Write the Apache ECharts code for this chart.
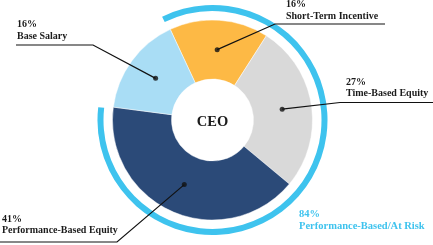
<!DOCTYPE html>
<html><head><meta charset="utf-8">
<script src="https://cdn.jsdelivr.net/npm/echarts@6/dist/echarts.min.js"></script>
<style>html,body{margin:0;padding:0;background:#fff}#c{width:433px;height:245px}</style>
</head><body><div id="c"></div>
<script>
// ---- data ----
const categories = ['Short-Term Incentive', 'Time-Based Equity', 'Performance-Based Equity', 'Base Salary'];
const shares = [16, 27, 41, 16];
const atRiskLabel = 'Performance-Based/At Risk';
const atRiskShare = 84;
const centerLabel = 'CEO';

// ---- styles / layout ----
const sliceColors = ['#FDB945', '#D9D9D9', '#2B4A78', '#A9DDF5'];
const ringColor = '#3EC3EE';
const FONT = '"Liberation Serif", "Times New Roman", serif';
const CX = 212.5, CY = 120, R0 = 41, R1 = 100;
const labelSpots = [
  {tx: 286, ty: -1,    ex: 275, ey: 24,    endX: 385},
  {tx: 346, ty: 76.5,  ex: 340, ey: 102.5, endX: 433},
  {tx: 2,   ty: 213.5, ex: 117, ey: 242,   endX: 0},
  {tx: 17,  ty: 19,    ex: 93,  ey: 45,    endX: 16}
];

const chart = echarts.init(document.getElementById('c'), null, {renderer: 'canvas'});

let acc = 0;
const dotData = shares.map(v => { const m = acc + v / 2; acc += v; return [(R0 + R1) / 2, m]; });

const txt = {fontFamily: FONT, fontWeight: 'bold', fontSize: 10, lineHeight: 11.5, color: '#1b1b1b'};

chart.setOption({
  animation: false,
  polar: {center: [CX, CY], radius: R1},
  angleAxis: {type: 'value', min: 0, max: 100, startAngle: 115, clockwise: true, show: false},
  radiusAxis: {type: 'value', min: 0, max: R1, show: false},
  series: [
    {
      type: 'pie',
      center: [CX, CY],
      radius: [R0, R1],
      startAngle: 115,
      clockwise: true,
      avoidLabelOverlap: false,
      emphasis: {disabled: true},
      itemStyle: {borderColor: 'rgba(255,255,255,0.6)', borderWidth: 0.8},
      data: categories.map((c, i) => ({name: c, value: shares[i], itemStyle: {color: sliceColors[i]}})),
      label: {
        show: true,
        formatter: p => '{p|' + p.value + '%}\n{n|' + p.name + '}',
        rich: {p: txt, n: txt}
      },
      labelLine: {show: false},
      labelLayout: function (p) {
        const s = labelSpots[p.dataIndex];
        return {x: s.tx, y: s.ty, align: 'left', verticalAlign: 'top'};
      },
      z: 2
    },
    {
      type: 'pie',
      center: [CX, CY],
      radius: [109, 115],
      startAngle: 116,
      clockwise: true,
      silent: true,
      label: {show: false},
      labelLine: {show: false},
      emphasis: {disabled: true},
      data: [
        {name: atRiskLabel, value: atRiskShare, itemStyle: {color: ringColor}},
        {name: 'rest', value: 100 - atRiskShare, itemStyle: {color: 'rgba(0,0,0,0)'}}
      ],
      z: 1
    },
    {
      type: 'scatter',
      coordinateSystem: 'polar',
      symbol: 'circle',
      symbolSize: 5,
      silent: true,
      itemStyle: {color: '#111'},
      data: dotData,
      z: 6
    }
  ]
});

const guideLines = labelSpots.map((s, i) => {
  const d = chart.convertToPixel({polarIndex: 0}, dotData[i]);
  return {type: 'polyline', id: 'guide' + i, z: 5, silent: true,
          shape: {points: [d, [s.ex, s.ey], [s.endX, s.ey]]},
          style: {stroke: '#111', lineWidth: 1.2, fill: null}};
});

chart.setOption({
  graphic: [
    ...guideLines,
    {type: 'text', id: 'center', x: CX, y: CY + 2, z: 10,
     style: {text: centerLabel, fontFamily: FONT, fontWeight: 'bold', fontSize: 14.5, fill: '#1b1b1b', align: 'center', verticalAlign: 'middle'}},
    {type: 'text', id: 'atRisk', x: 299, y: 209, z: 10,
     style: {text: atRiskShare + '%\n' + atRiskLabel, fontFamily: FONT, fontWeight: 'bold', fontSize: 10.5, lineHeight: 11.5, fill: ringColor, align: 'left', verticalAlign: 'top'}}
  ]
});
</script>
</body></html>
